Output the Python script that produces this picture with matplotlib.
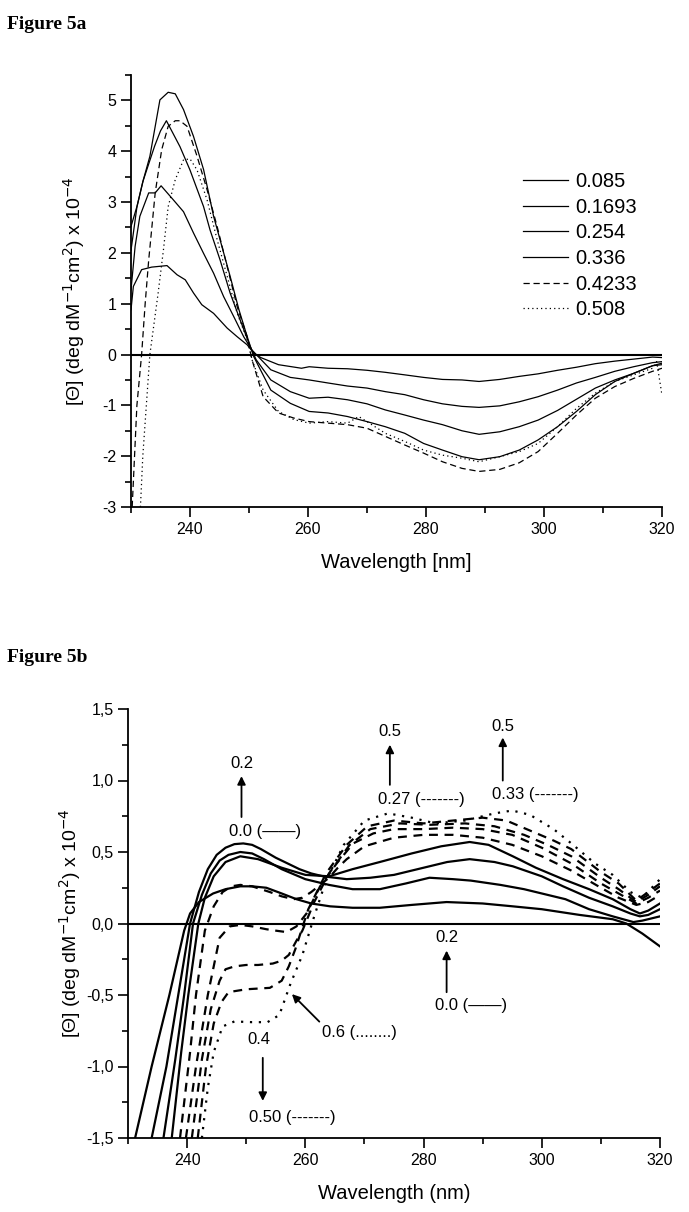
import matplotlib
matplotlib.use('Agg')
import matplotlib.pyplot as plt
from matplotlib.ticker import MultipleLocator, FuncFormatter

plt.rcParams['font.family'] = ['Liberation Sans', 'DejaVu Sans']
plt.rcParams['axes.unicode_minus'] = False

# ---- Figure 5a data (wavelength nm, ellipticity x 10^-4) ----
a_labels = ['0.085', '0.1693', '0.254', '0.336', '0.4233', '0.508']

a_085_x = [230, 230.4, 231.8, 233.5, 236.1, 237.8, 239.2, 240.6, 242, 244, 246.3, 248, 249.7, 250.8, 252, 255,
           258.9, 260.2, 263.4, 266.7, 270, 273.1, 276.4, 279.6, 282.8, 286.1, 289, 292.5, 295.8, 299, 302.3,
           305.5, 308.7, 312, 315.2, 318.4, 320]
a_085_y = [0.88, 1.34, 1.67, 1.72, 1.75, 1.57, 1.47, 1.21, 0.98, 0.81, 0.52, 0.35, 0.19, 0.03, -0.06, -0.2,
           -0.27, -0.24, -0.27, -0.28, -0.31, -0.35, -0.4, -0.45, -0.49, -0.5, -0.53, -0.49, -0.43, -0.38, -0.31,
           -0.25, -0.18, -0.13, -0.09, -0.05, -0.06]

a_1693_x = [230, 230.7, 231.5, 233, 234.1, 235.1, 237.2, 238.9, 240.6, 242.3, 244, 245.7, 247.4, 249.1, 250.5,
            251.8, 253.7, 257, 260.2, 263.4, 266.7, 270, 273.1, 276.4, 279.6, 282.8, 286.1, 289, 292.5, 295.8,
            299, 302.3, 305.5, 308.7, 312, 315.2, 318.4, 320]
a_1693_y = [1.27, 2.13, 2.72, 3.18, 3.18, 3.32, 3.04, 2.81, 2.39, 1.99, 1.6, 1.14, 0.75, 0.35, 0.09,
            -0.07, -0.3, -0.45, -0.5, -0.56, -0.62, -0.66, -0.73, -0.79, -0.89, -0.97, -1.02, -1.04, -1.01, -0.93,
            -0.83, -0.7, -0.56, -0.45, -0.33, -0.24, -0.16, -0.14]

a_254_x = [230, 231, 232, 233, 234, 235, 236, 238.3, 240, 242.3, 243.4, 245.1, 246.8, 248.5, 250.2,
           251.2, 253.7, 257, 260.2, 263.4, 266.7, 270, 273.1, 276.4, 279.6, 282.8, 286.1, 289, 292.5, 295.8,
           299, 302.3, 305.5, 308.7, 312, 315.2, 318.4, 320]
a_254_y = [2.05, 2.9, 3.4, 3.75, 4.1, 4.4, 4.6, 4.09, 3.63, 2.91, 2.45, 1.86, 1.21, 0.68, 0.16,
           -0.1, -0.5, -0.73, -0.86, -0.84, -0.89, -0.97, -1.09, -1.19, -1.29, -1.38, -1.5, -1.57, -1.52, -1.42,
           -1.29, -1.1, -0.88, -0.66, -0.5, -0.37, -0.22, -0.17]

a_336_x = [230, 231, 232.1, 233.2, 234.9, 236.3, 237.5, 238.9, 240.6, 242.3, 244, 245.4, 246.8, 248.3, 249.7,
           250.8, 253.7, 257, 260.2, 263.4, 266.7, 270, 273.1, 276.4, 279.6, 282.8, 286.1, 289, 292.5, 295.8,
           299, 302.3, 305.5, 308.7, 312, 315.2, 318.4, 320]
a_336_y = [2.52, 2.91, 3.44, 3.9, 5.01, 5.16, 5.13, 4.82, 4.29, 3.64, 2.72, 2.13, 1.54, 0.88, 0.35,
           -0.04, -0.7, -0.96, -1.12, -1.15, -1.22, -1.32, -1.42, -1.55, -1.75, -1.88, -2.01, -2.07, -2.01, -1.88,
           -1.68, -1.42, -1.12, -0.79, -0.53, -0.37, -0.22, -0.2]

a_4233_x = [230.2, 230.6, 231, 231.8, 232.4, 233, 234.1, 235.2, 236.3, 237.5, 238.3, 239.5, 241.2, 242.9, 244.6,
            246.3, 248, 249.7, 250.5, 252.4, 255, 257.6, 260.2, 263.4, 266.7, 270, 273.1, 276.4, 279.6, 282.8,
            286.1, 289, 292.5, 295.8, 299, 302.3, 305.5, 308.7, 312, 315.2, 318.4, 320]
a_4233_y = [-3.0, -2.0, -1.0, 0.0, 1.0, 1.86, 3.18, 4.03, 4.49, 4.6, 4.6, 4.49, 3.9, 3.24, 2.52,
            1.73, 0.94, 0.35, -0.1, -0.83, -1.15, -1.25, -1.32, -1.35, -1.38, -1.45, -1.61, -1.78, -1.94, -2.11,
            -2.24, -2.3, -2.26, -2.13, -1.91, -1.55, -1.19, -0.86, -0.63, -0.47, -0.33, -0.27]

a_508_x = [231.6, 232, 232.6, 233.2, 234.6, 235.5, 236.3, 237.5, 238.9, 240, 241.2, 242.9, 244.6, 246.3, 248,
           249.7, 250.5, 252.4, 255, 257.6, 260.2, 263.4, 266.7, 268.6, 270, 273.1, 276.4, 279.6, 282.8, 286.1,
           289, 292.5, 295.8, 299, 302.3, 305.5, 308.7, 312, 315.2, 318.4, 319.1, 320]
a_508_y = [-3.0, -2.0, -1.0, 0.0, 1.21, 2.06, 2.91, 3.44, 3.83, 3.85, 3.63, 3.04, 2.26, 1.54, 0.81,
           0.29, -0.1, -0.7, -1.12, -1.28, -1.35, -1.32, -1.35, -1.22, -1.32, -1.55, -1.71, -1.88, -1.98, -2.04,
           -2.11, -2.01, -1.91, -1.75, -1.42, -1.06, -0.76, -0.53, -0.4, -0.27, -0.14, -0.8]

# ---- Figure 5b data ----
b_s1_x = [231.2, 234, 237, 239.5, 240.5, 242, 244.4, 246.5, 249, 251, 253.4, 256, 258.5, 261, 264.2, 268, 272.6,
          278, 283.9, 290, 295.1, 300, 306.4, 312, 314.3, 317, 320]
b_s1_y = [-1.5, -1.0, -0.5, -0.05, 0.07, 0.15, 0.21, 0.24, 0.26, 0.26, 0.25, 0.21, 0.17, 0.14, 0.12, 0.11, 0.11,
          0.13, 0.15, 0.14, 0.12, 0.10, 0.06, 0.03, 0.0, -0.07, -0.16]

b_s2_x = [234, 236.5, 238.5, 240.5, 242, 243.5, 245, 246.5, 248, 249.5, 251, 252.5, 255, 257, 259, 261, 263, 265,
          267, 271, 275, 279, 284, 287.8, 292, 295.1, 300, 303.6, 308, 312, 315, 316.6, 318, 320]
b_s2_y = [-1.5, -1.0, -0.5, 0.0, 0.22, 0.38, 0.48, 0.53, 0.555, 0.56, 0.55, 0.52, 0.46, 0.42, 0.38, 0.35, 0.33,
          0.32, 0.31, 0.32, 0.34, 0.38, 0.43, 0.45, 0.43, 0.40, 0.33, 0.26, 0.18, 0.12, 0.07, 0.05, 0.06, 0.10]

b_s3_x = [236, 238, 239.5, 241, 242.5, 244, 245.5, 247, 249, 251, 253, 256, 260, 264, 268, 272.6, 277, 281, 285,
          288, 293, 297, 301, 304, 308, 312, 315.5, 317, 320]
b_s3_y = [-1.5, -0.95, -0.5, 0.0, 0.2, 0.35, 0.44, 0.48, 0.50, 0.49, 0.45, 0.38, 0.31, 0.27, 0.24, 0.24, 0.28,
          0.32, 0.31, 0.30, 0.27, 0.24, 0.20, 0.17, 0.10, 0.05, 0.01, 0.02, 0.05]

b_s4_x = [237.4, 239, 240.2, 241.9, 243, 244.5, 246.5, 249, 252, 256, 260, 264, 268, 272.6, 278, 283, 287.8, 291,
          295.1, 299, 303.6, 308, 312, 315, 316.6, 318, 320]
b_s4_y = [-1.5, -0.9, -0.5, 0.0, 0.18, 0.33, 0.43, 0.47, 0.45, 0.39, 0.34, 0.33, 0.38, 0.43, 0.49, 0.54, 0.57,
          0.55, 0.47, 0.39, 0.31, 0.24, 0.17, 0.10, 0.07, 0.09, 0.14]

b_d1_x = [238.8, 240.5, 241.5, 243, 244.5, 246, 247.5, 249, 251, 254, 256, 258, 259.5, 261, 262.5, 264, 265.5,
          267, 270, 275, 280, 285, 290, 295, 300, 305, 310, 313, 316, 318, 320]
b_d1_y = [-1.5, -0.9, -0.5, -0.05, 0.12, 0.22, 0.26, 0.27, 0.26, 0.22, 0.19, 0.17, 0.18, 0.22, 0.27, 0.32, 0.39,
          0.45, 0.54, 0.60, 0.62, 0.62, 0.60, 0.55, 0.47, 0.37, 0.25, 0.18, 0.13, 0.15, 0.2]

b_d2_x = [239.8, 241.5, 243.5, 245.5, 247.2, 249, 251, 253.4, 255, 256.8, 258.5, 260.2, 262.5, 265.3, 268.1,
          271.5, 275, 280, 285, 290, 295, 300, 305, 310, 313, 316, 318, 320]
b_d2_y = [-1.5, -1.0, -0.5, -0.1, -0.02, -0.01, -0.02, -0.04, -0.05, -0.06, -0.02, 0.07, 0.26, 0.42, 0.56,
          0.63, 0.66, 0.66, 0.67, 0.66, 0.62, 0.53, 0.42, 0.28, 0.21, 0.14, 0.18, 0.23]

b_d3_x = [240.8, 242.5, 244, 245.5, 246.5, 248, 250, 252, 254.5, 256, 257.2, 258.5, 259.5, 261.5, 264, 267.5,
          271, 276, 281, 287, 292, 297, 301, 305, 310, 313, 316, 318, 320]
b_d3_y = [-1.5, -0.95, -0.6, -0.4, -0.32, -0.3, -0.29, -0.29, -0.28, -0.26, -0.22, -0.12, -0.05, 0.15, 0.35, 0.55,
          0.66, 0.70, 0.69, 0.70, 0.68, 0.62, 0.55, 0.47, 0.32, 0.24, 0.15, 0.2, 0.26]

b_d4_x = [241.8, 243.2, 244.5, 245.8, 247, 250, 254, 256, 257.2, 258.3, 260.5, 263.5, 267, 270.5, 275, 280, 285,
          290, 294, 298, 302, 305, 310, 313, 316, 318, 320]
b_d4_y = [-1.5, -1.0, -0.7, -0.55, -0.48, -0.46, -0.45, -0.40, -0.3, -0.18, 0.1, 0.35, 0.55, 0.68, 0.72, 0.70,
          0.72, 0.74, 0.72, 0.65, 0.58, 0.52, 0.36, 0.28, 0.16, 0.22, 0.28]

b_dot_x = [242.5, 243.5, 244.5, 246, 248, 251, 253.6, 255.6, 257.5, 259.5, 261.5, 263.5, 266.5, 270, 274, 278,
           282, 287, 292, 295, 298, 302, 305, 309, 312, 315, 317, 320]
b_dot_y = [-1.5, -1.15, -0.9, -0.72, -0.685, -0.69, -0.69, -0.64, -0.42, -0.22, 0.05, 0.3, 0.55, 0.72, 0.77,
           0.74, 0.70, 0.72, 0.77, 0.79, 0.76, 0.66, 0.56, 0.42, 0.34, 0.22, 0.18, 0.31]

YLABEL = '[\u0398] (deg dM$^{-1}$cm$^{2}$) x 10$^{-4}$'


def style_axis(ax):
    ax.spines['top'].set_visible(False)
    ax.spines['right'].set_visible(False)
    ax.spines['left'].set_linewidth(1.3)
    ax.spines['bottom'].set_linewidth(1.3)
    ax.tick_params(which='major', direction='out', length=7, width=1.2, labelsize=11.5)
    ax.tick_params(which='minor', direction='out', length=4.5, width=1.2)
    ax.axhline(0, color='black', lw=1.5, zorder=1)


fig = plt.figure(figsize=(6.89, 12.12), dpi=100)

# ---------------- Figure 5a ----------------
fig.text(7 / 689, 1 - 29 / 1212, 'Figure 5a', family='Liberation Serif', weight='bold', fontsize=14,
         va='baseline', ha='left')
ax1 = fig.add_axes([131 / 689, 1 - 507 / 1212, (662 - 131) / 689, (507 - 75) / 1212])
style_axis(ax1)

solid_a = [(a_085_x, a_085_y), (a_1693_x, a_1693_y), (a_254_x, a_254_y), (a_336_x, a_336_y)]
for (xs, ys), lab in zip(solid_a, a_labels[:4]):
    ax1.plot(xs, ys, color='black', lw=0.9, label=lab)
ax1.plot(a_4233_x, a_4233_y, color='black', lw=0.9, ls=(0, (5, 3)), label=a_labels[4])
ax1.plot(a_508_x, a_508_y, color='black', lw=0.9, ls=(0, (1, 2.5)), label=a_labels[5])

ax1.set_xlim(230, 320)
ax1.set_ylim(-3, 5.5)
ax1.xaxis.set_minor_locator(MultipleLocator(10))
ax1.yaxis.set_major_locator(MultipleLocator(1))
ax1.yaxis.set_minor_locator(MultipleLocator(0.5))
ax1.set_xticks([240, 260, 280, 300, 320])
ax1.set_xlabel('Wavelength [nm]', fontsize=14.5, labelpad=12)
ax1.set_ylabel(YLABEL, fontsize=14)
ax1.yaxis.set_label_coords(-0.083, 0.5)
ax1.legend(loc='upper left', bbox_to_anchor=(0.738, 0.775), frameon=False, fontsize=14.5,
           handlelength=2.25, handletextpad=0.35, labelspacing=0.33, borderpad=0, borderaxespad=0)

# ---------------- Figure 5b ----------------
fig.text(7 / 689, 1 - 662 / 1212, 'Figure 5b', family='Liberation Serif', weight='bold', fontsize=14,
         va='baseline', ha='left')
ax2 = fig.add_axes([128 / 689, 1 - 1138 / 1212, (660 - 128) / 689, (1138 - 709) / 1212])
style_axis(ax2)

for xs, ys in [(b_s1_x, b_s1_y), (b_s2_x, b_s2_y), (b_s3_x, b_s3_y), (b_s4_x, b_s4_y)]:
    ax2.plot(xs, ys, color='black', lw=1.6)
for xs, ys in [(b_d1_x, b_d1_y), (b_d2_x, b_d2_y), (b_d3_x, b_d3_y), (b_d4_x, b_d4_y)]:
    ax2.plot(xs, ys, color='black', lw=1.6, ls=(0, (4, 3)))
ax2.plot(b_dot_x, b_dot_y, color='black', lw=1.6, ls=(0, (1, 3)))

ax2.set_xlim(230, 320)
ax2.set_ylim(-1.5, 1.5)
ax2.set_xticks([240, 260, 280, 300, 320])
ax2.xaxis.set_minor_locator(MultipleLocator(10))
ax2.yaxis.set_major_locator(MultipleLocator(0.5))
ax2.yaxis.set_minor_locator(MultipleLocator(0.25))
ax2.yaxis.set_major_formatter(FuncFormatter(lambda v, p: f'{v:.1f}'.replace('.', ',')))
ax2.set_xlabel('Wavelength (nm)', fontsize=14.5, labelpad=12)
ax2.set_ylabel(YLABEL, fontsize=14)
ax2.yaxis.set_label_coords(-0.085, 0.5)

arrow = dict(arrowstyle='-|>', color='black', lw=1.3, mutation_scale=12)
fs = 12
ax2.annotate('', xy=(249.2, 1.05), xytext=(249.2, 0.725), arrowprops=arrow)
ax2.text(249.2, 1.12, '0.2', fontsize=fs, ha='center', va='center')
ax2.text(247.1, 0.64, '0.0 (\u2014\u2014)', fontsize=fs, ha='left', va='center')

ax2.annotate('', xy=(274.3, 1.27), xytext=(274.3, 0.95), arrowprops=arrow)
ax2.text(274.3, 1.34, '0.5', fontsize=fs, ha='center', va='center')
ax2.text(272.3, 0.87, '0.27 (-------)', fontsize=fs, ha='left', va='center')

ax2.annotate('', xy=(293.4, 1.32), xytext=(293.4, 0.98), arrowprops=arrow)
ax2.text(293.4, 1.38, '0.5', fontsize=fs, ha='center', va='center')
ax2.text(291.5, 0.90, '0.33 (-------)', fontsize=fs, ha='left', va='center')

ax2.annotate('', xy=(283.9, -0.17), xytext=(283.9, -0.50), arrowprops=arrow)
ax2.text(283.9, -0.10, '0.2', fontsize=fs, ha='center', va='center')
ax2.text(282.0, -0.575, '0.0 (\u2014\u2014)', fontsize=fs, ha='left', va='center')

ax2.annotate('', xy=(257.4, -0.48), xytext=(262.7, -0.70), arrowprops=arrow)
ax2.text(262.9, -0.765, '0.6 (........)', fontsize=fs, ha='left', va='center')

ax2.text(252.1, -0.81, '0.4', fontsize=fs, ha='center', va='center')
ax2.annotate('', xy=(252.8, -1.26), xytext=(252.8, -0.92), arrowprops=arrow)
ax2.text(250.4, -1.36, '0.50 (-------)', fontsize=fs, ha='left', va='center')

fig.savefig('out.png', dpi=100, facecolor='white')
